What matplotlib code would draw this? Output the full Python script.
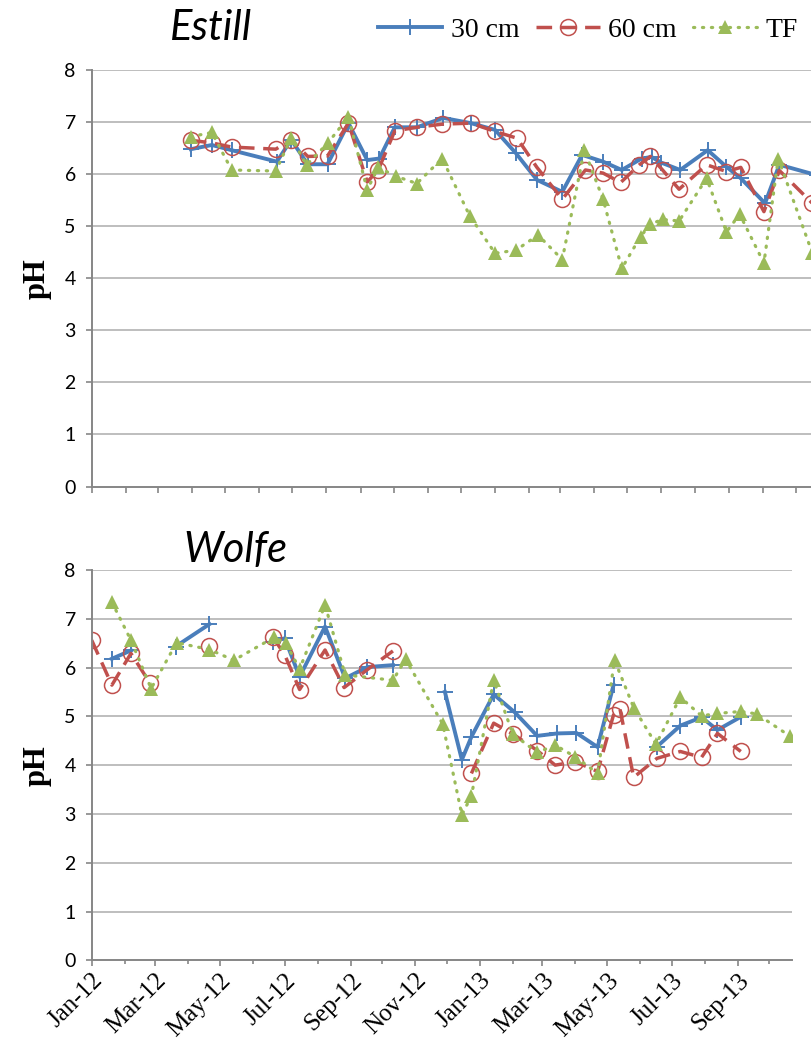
import matplotlib
matplotlib.use("Agg")
import matplotlib.pyplot as plt
import matplotlib.dates as mdates
from matplotlib.lines import Line2D
import numpy as np
import pandas as pd

# ---- Estill: sampling dates and pH (None = no sample, line breaks) ----
estill_30_dates = ["2012-03-31", "2012-04-19", "2012-05-07", "2012-06-17", "2012-06-30", "2012-07-15",
                   "2012-08-02", "2012-08-21", "2012-09-07", "2012-09-18", "2012-10-02", "2012-10-22",
                   "2012-11-15", "2012-12-10", "2013-01-01", "2013-01-20", "2013-02-08", "2013-03-03",
                   "2013-03-21", "2013-04-09", "2013-04-26", "2013-05-14", "2013-05-23", "2013-06-01",
                   "2013-06-18", "2013-07-13", "2013-07-30", "2013-08-12", "2013-09-03", "2013-09-16",
                   "2013-10-20"]
estill_30_ph = [6.48, 6.56, 6.46, 6.24, 6.66, 6.19, 6.19, 6.98, 6.27, 6.30, 6.90, 6.90,
                7.08, 6.98, 6.85, 6.40, 5.89, 5.66, 6.37, 6.24, 6.08, 6.30, 6.33, 6.22,
                6.08, 6.46, 6.14, 5.92, 5.44, 6.18, 5.98]

estill_60_dates = ["2012-03-31", "2012-04-19", "2012-05-07", "2012-06-16", "2012-06-30", "2012-07-15",
                   "2012-08-02", "2012-08-21", "2012-09-07", "2012-09-17", "2012-10-02", "2012-10-22",
                   "2012-11-14", "2012-12-10", "2013-01-01", "2013-01-21", "2013-02-08", "2013-03-03",
                   "2013-03-24", "2013-04-09", "2013-04-25", "2013-05-12", "2013-05-22", "2013-06-02",
                   "2013-06-17", "2013-07-12", "2013-07-30", "2013-08-12", "2013-09-02", "2013-09-16",
                   "2013-10-16"]
estill_60_ph = [6.65, 6.60, 6.52, 6.48, 6.66, 6.34, 6.35, 6.98, 5.85, 6.08, 6.83, 6.90,
                6.96, 6.98, 6.82, 6.69, 6.13, 5.52, 6.08, 6.02, 5.84, 6.18, 6.34, 6.08,
                5.71, 6.18, 6.05, 6.13, 5.28, 6.07, 5.44]

estill_tf_dates = ["2012-03-31", "2012-04-19", "2012-05-07", "2012-06-16", "2012-06-30", "2012-07-14",
                   "2012-08-02", "2012-08-21", "2012-09-07", "2012-09-17", "2012-10-03", "2012-10-22",
                   "2012-11-14", "2012-12-09", "2013-01-01", "2013-01-20", "2013-02-09", "2013-03-03",
                   "2013-03-23", "2013-04-09", "2013-04-26", "2013-05-13", "2013-05-22", "2013-06-02",
                   "2013-06-17", "2013-07-12", "2013-07-30", "2013-08-11", "2013-09-02", "2013-09-15",
                   "2013-10-16"]
estill_tf_ph = [6.72, 6.80, 6.08, 6.06, 6.70, 6.18, 6.59, 7.10, 5.70, 6.13, 5.96, 5.82,
                6.30, 5.20, 4.48, 4.54, 4.83, 4.36, 6.46, 5.52, 4.19, 4.80, 5.04, 5.13,
                5.10, 5.92, 4.89, 5.23, 4.29, 6.30, 4.48]

# ---- Wolfe ----
wolfe_30_dates = ["2012-01-20", "2012-02-07", "2012-03-01", "2012-03-20", "2012-04-21", "2012-05-14",
                  "2012-06-20", "2012-07-01", "2012-07-15", "2012-08-08", "2012-08-27", "2012-09-17",
                  "2012-10-11", "2012-10-23", "2012-11-29", "2012-12-15", "2012-12-24", "2013-01-14",
                  "2013-02-03", "2013-02-24", "2013-03-15", "2013-04-02", "2013-04-22", "2013-05-07",
                  "2013-05-26", "2013-06-17", "2013-07-09", "2013-07-29", "2013-08-13", "2013-09-04"]
wolfe_30_ph = [6.18, 6.35, None, 6.43, 6.89, None,
               6.53, 6.60, 5.81, 6.84, 5.78, 6.01,
               6.05, None, 5.50, 4.11, 4.58, 5.45,
               5.08, 4.60, 4.65, 4.66, 4.37, 5.64,
               None, 4.38, 4.81, 4.98, 4.72, 4.99]

wolfe_60_dates = ["2012-01-01", "2012-01-20", "2012-02-07", "2012-02-25", "2012-03-20", "2012-04-21",
                  "2012-05-14", "2012-06-20", "2012-07-01", "2012-07-15", "2012-08-08", "2012-08-26",
                  "2012-09-17", "2012-10-11", "2012-11-27", "2012-12-24", "2013-01-14", "2013-02-01",
                  "2013-02-24", "2013-03-13", "2013-04-01", "2013-04-22", "2013-05-07", "2013-05-13",
                  "2013-05-26", "2013-06-17", "2013-07-09", "2013-07-29", "2013-08-13", "2013-09-04"]
wolfe_60_ph = [6.56, 5.64, 6.29, 5.68, None, 6.45,
               None, 6.62, 6.26, 5.55, 6.36, 5.59,
               5.96, 6.34, None, 3.83, 4.86, 4.64,
               4.30, 4.00, 4.07, 3.87, 5.03, 5.16,
               3.75, 4.14, 4.28, 4.16, 4.65, 4.28]

wolfe_tf_dates = ["2012-01-20", "2012-02-07", "2012-02-26", "2012-03-21", "2012-04-21", "2012-05-14",
                  "2012-06-21", "2012-07-02", "2012-07-15", "2012-08-08", "2012-08-27", "2012-10-11",
                  "2012-10-23", "2012-11-27", "2012-12-15", "2012-12-24", "2013-01-14", "2013-02-01",
                  "2013-02-24", "2013-03-13", "2013-04-01", "2013-04-22", "2013-05-08", "2013-05-26",
                  "2013-06-16", "2013-07-09", "2013-07-29", "2013-08-13", "2013-09-04", "2013-09-19",
                  "2013-10-20"]
wolfe_tf_ph = [7.34, 6.56, 5.57, 6.51, 6.37, 6.15, 6.62, 6.50, 5.97, 7.28, 5.85, 5.74,
               6.17, 4.84, 2.98, 3.37, 5.74, 4.64, 4.26, 4.41, 4.17, 3.83, 6.15, 5.18,
               4.43, 5.39, 5.01, 5.06, 5.10, 5.05, 4.60]

series_labels = ["30 cm", "60 cm", "TF"]

BLUE = "#4a7ebb"
RED = "#c0504d"
GREEN = "#9bbb59"
GRID = "#b3b3b3"
SPINE = "#868686"

styles = [
    dict(color=BLUE, lw=2.8, ls="-", marker="+", ms=11, mew=1.4),
    dict(color=RED, lw=2.5, ls=(0, (4.5, 2.5)), marker="o", ms=11.5, mew=1.1, mfc="none"),
    dict(color=GREEN, lw=2.3, ls=(0, (0.4, 2.4)), dash_capstyle="round", marker="^", ms=10, mew=0),
]

xmin, xmax = pd.Timestamp("2012-01-01"), pd.Timestamp("2013-10-22")


def to_vals(v):
    return np.array([np.nan if x is None else x for x in v], dtype=float)


def draw_panel(ax, data, long_ticks):
    for (d, v), st in zip(data, styles):
        ax.plot(pd.to_datetime(d), to_vals(v), clip_on=True, **st)
    ax.set_ylim(0, 8)
    ax.set_xlim(xmin, xmax)
    ax.set_yticks(range(0, 9))
    for y in range(1, 9):
        ax.axhline(y, color=GRID, lw=1.2, zorder=0)
    for s in ["top", "right"]:
        ax.spines[s].set_visible(False)
    for s in ["left", "bottom"]:
        ax.spines[s].set_color(SPINE)
        ax.spines[s].set_linewidth(1.4)
    ax.tick_params(axis="y", length=4.5, width=1.2, color=SPINE, pad=7, labelsize=14)
    ax.xaxis.set_major_locator(mdates.MonthLocator(bymonth=range(1, 13, 2)))
    ax.xaxis.set_minor_locator(mdates.MonthLocator())
    ax.xaxis.set_major_formatter(mdates.DateFormatter("%b-%y"))
    ax.tick_params(axis="x", which="major", length=4.5, width=1.2, color=SPINE)
    ax.tick_params(axis="x", which="minor", length=3 if long_ticks else 4.5, width=1.2, color=SPINE)
    for lab in ax.get_yticklabels():
        lab.set_fontfamily("Lato")
    ax.set_ylabel("pH", fontsize=22, fontweight="bold", family="Liberation Serif", labelpad=9)


fig = plt.figure(figsize=(8.11, 10.42), dpi=100)
ax1 = fig.add_axes([0.1131, 0.5331, 0.8968, 0.3997])
ax2 = fig.add_axes([0.1131, 0.0784, 0.8631, 0.3746])

draw_panel(ax1, [(estill_30_dates, estill_30_ph), (estill_60_dates, estill_60_ph),
                 (estill_tf_dates, estill_tf_ph)], False)
draw_panel(ax2, [(wolfe_30_dates, wolfe_30_ph), (wolfe_60_dates, wolfe_60_ph),
                 (wolfe_tf_dates, wolfe_tf_ph)], True)

ax1.set_xticklabels([])
ax2.tick_params(axis="x", which="major", pad=2)
for lab in ax2.get_xticklabels():
    lab.set_rotation(45)
    lab.set_ha("right")
    lab.set_va("top")
    lab.set_rotation_mode("anchor")
    lab.set_fontfamily("Liberation Serif")
    lab.set_fontsize(18)

fig.text(0.209, 0.973, "Estill", fontsize=30, style="italic", family="Lato", va="center")
fig.text(0.226, 0.472, "Wolfe", fontsize=30, style="italic", family="Lato", va="center")

handles = [Line2D([], [], **st) for st in styles]
fig.legend(handles, series_labels, loc="center right", bbox_to_anchor=(1.008, 0.971), ncol=3,
           frameon=False, prop={"family": "Liberation Serif", "size": 20}, handlelength=2.3,
           columnspacing=0.6, handletextpad=0.3, borderpad=0.2)

fig.savefig("out.png", dpi=100)
